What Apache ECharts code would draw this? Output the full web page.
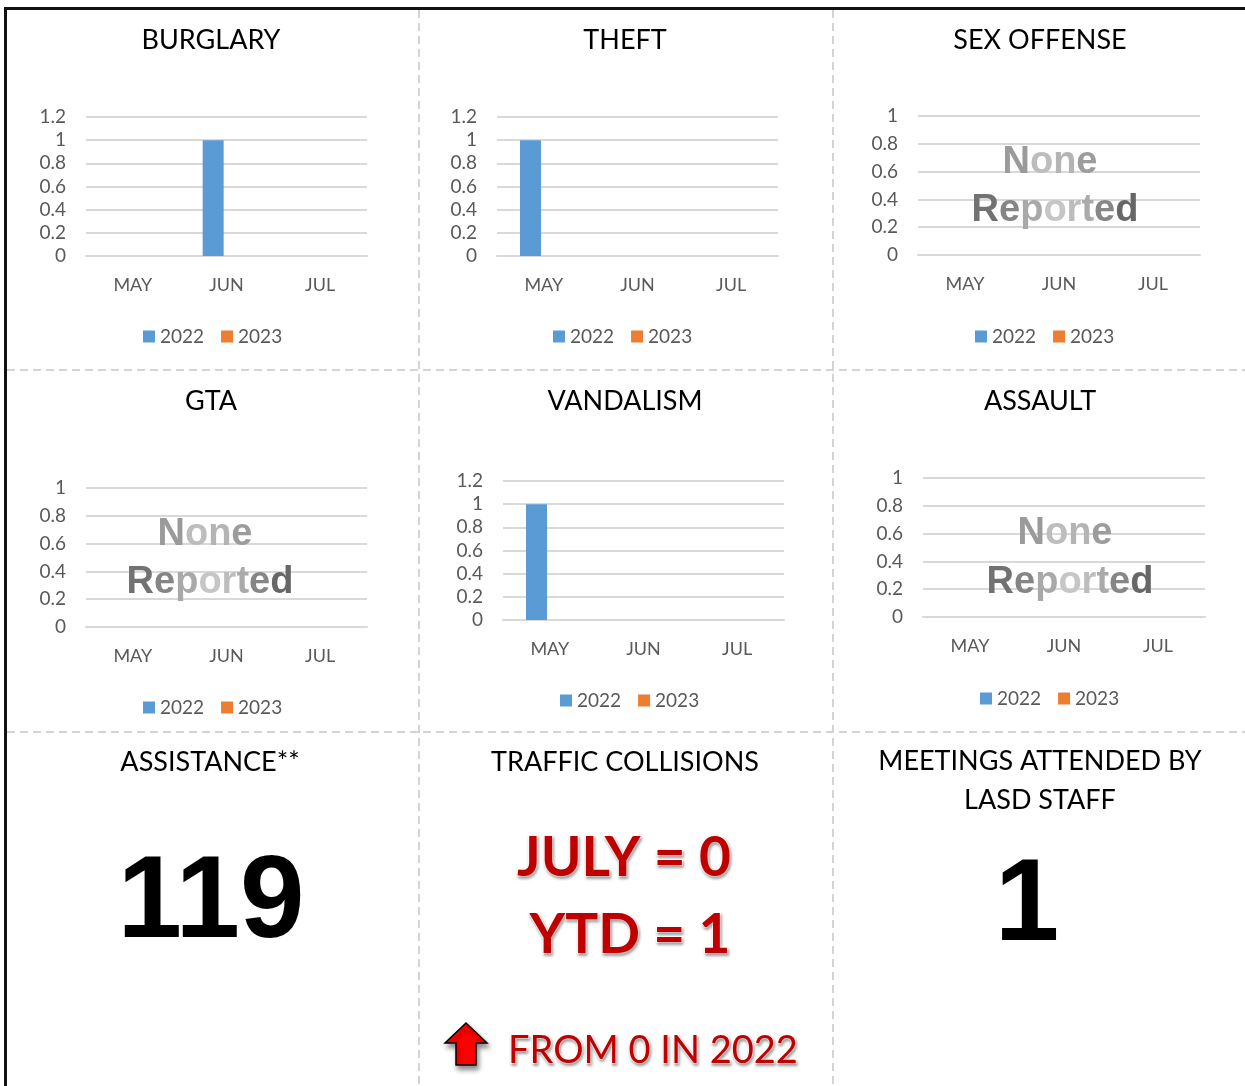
<!DOCTYPE html>
<html>
<head>
<meta charset="utf-8">
<script src="https://cdn.jsdelivr.net/npm/echarts@6/dist/echarts.min.js"></script>
<style>
html,body{margin:0;padding:0;background:#fff;}
#main{width:1245px;height:1086px;}
</style>
</head>
<body>
<div id="main"></div>
<script>
// ---- data ----
const months = ['MAY', 'JUN', 'JUL'];
const seriesNames = ['2022', '2023'];
const panelTitles = ['BURGLARY', 'THEFT', 'SEX OFFENSE', 'GTA', 'VANDALISM', 'ASSAULT'];
const burglary2022 = [0, 1, 0];
const burglary2023 = [0, 0, 0];
const theft2022 = [1, 0, 0];
const theft2023 = [0, 0, 0];
const sexOffense2022 = [0, 0, 0];
const sexOffense2023 = [0, 0, 0];
const gta2022 = [0, 0, 0];
const gta2023 = [0, 0, 0];
const vandalism2022 = [1, 0, 0];
const vandalism2023 = [0, 0, 0];
const assault2022 = [0, 0, 0];
const assault2023 = [0, 0, 0];
const yMaxes = [1.2, 1.2, 1, 1, 1.2, 1];
const noneWord = 'None';
const reportedWord = 'Reported';
const assistanceTitle = 'ASSISTANCE**';
const assistanceValue = '119';
const trafficTitle = 'TRAFFIC COLLISIONS';
const trafficMonth = 'JULY = 0';
const trafficYtd = 'YTD = 1';
const trafficChange = 'FROM 0 IN 2022';
const meetingsTitle = 'MEETINGS ATTENDED BY\nLASD STAFF';
const meetingsValue = '1';

const allData = [
  [burglary2022, burglary2023],
  [theft2022, theft2023],
  [sexOffense2022, sexOffense2023],
  [gta2022, gta2023],
  [vandalism2022, vandalism2023],
  [assault2022, assault2023]
];

// ---- layout (pixels) ----
const grids = [
  {left: 86, top: 117, width: 281, height: 139},
  {left: 497, top: 117, width: 281, height: 139},
  {left: 918, top: 116, width: 282, height: 139},
  {left: 86, top: 488, width: 281, height: 139},
  {left: 503, top: 481, width: 281, height: 139},
  {left: 923, top: 478, width: 282, height: 139}
];
const legendPos = [
  {left: 143, top: 327}, {left: 553, top: 327}, {left: 975, top: 327},
  {left: 143, top: 698}, {left: 560, top: 691}, {left: 980, top: 689}
];
const titleCenters = [[211, 40], [625, 40], [1040, 40], [211, 401], [625, 401], [1040, 401]];
const nonePos = {2: [1050, 163, 1055, 211], 3: [205, 535, 210, 583], 5: [1065, 534, 1070, 583]};

const BLUE = '#5B9BD5', ORANGE = '#ED7D31';
const AXIS_GREY = '#595959', GRID_GREY = '#d9d9d9';
const TITLE_FONT = 'Lato, "Open Sans", sans-serif';

const chart = echarts.init(document.getElementById('main'), null, {renderer: 'canvas', width: 1245, height: 1086});

const option = {
  animation: false,
  backgroundColor: '#fff',
  grid: grids.map(g => Object.assign({containLabel: false}, g)),
  xAxis: grids.map((g, i) => ({
    type: 'category', gridIndex: i, data: months,
    axisLine: {show: true, lineStyle: {color: GRID_GREY, width: 2}},
    axisTick: {show: false},
    axisLabel: {color: AXIS_GREY, fontSize: 18, margin: 20, fontFamily: TITLE_FONT}
  })),
  yAxis: grids.map((g, i) => ({
    type: 'value', gridIndex: i, min: 0, max: yMaxes[i], interval: 0.2,
    axisLine: {show: false}, axisTick: {show: false},
    splitLine: {lineStyle: {color: GRID_GREY, width: 2}},
    axisLabel: {color: AXIS_GREY, fontSize: 19, margin: 20, fontFamily: TITLE_FONT,
      formatter: v => String(+v.toFixed(1))}
  })),
  legend: legendPos.map(p => ({
    left: p.left, top: p.top, orient: 'horizontal', padding: 0,
    data: seriesNames, icon: 'rect', itemWidth: 12, itemHeight: 12, itemGap: 17,
    textStyle: {color: AXIS_GREY, fontSize: 19, fontFamily: TITLE_FONT},
    selectedMode: false
  })),
  series: []
};

allData.forEach((pair, i) => {
  pair.forEach((vals, k) => {
    option.series.push({
      type: 'bar', name: seriesNames[k], xAxisIndex: i, yAxisIndex: i,
      data: vals, barWidth: 21, barGap: '27%',
      itemStyle: {color: k === 0 ? BLUE : ORANGE}
    });
  });
});

const graphics = [];
// outer border
graphics.push({type: 'line', shape: {x1: 4, y1: 8.5, x2: 1245, y2: 8.5}, style: {stroke: '#111', lineWidth: 3}});
graphics.push({type: 'line', shape: {x1: 5.5, y1: 7, x2: 5.5, y2: 1086}, style: {stroke: '#111', lineWidth: 3}});
// dashed separators
const dash = {stroke: '#d4d4d4', lineWidth: 2, lineDash: [8, 5]};
graphics.push({type: 'line', shape: {x1: 419, y1: 10, x2: 419, y2: 1086}, style: dash});
graphics.push({type: 'line', shape: {x1: 833, y1: 10, x2: 833, y2: 1086}, style: dash});
graphics.push({type: 'line', shape: {x1: 7, y1: 370, x2: 1245, y2: 370}, style: dash});
graphics.push({type: 'line', shape: {x1: 7, y1: 732, x2: 1245, y2: 732}, style: dash});

// panel titles
titleCenters.forEach((c, i) => {
  graphics.push({type: 'text', x: c[0], y: c[1], style: {
    text: panelTitles[i], fill: '#000', font: '27px ' + TITLE_FONT, align: 'center', verticalAlign: 'middle'}});
});

// "None Reported" watermark: per-letter greys imitate the metallic gradient
const noneFont = 'bold 38px "Liberation Sans", Arial, sans-serif';
const noneGreys = ['#9a9a9a', '#bdbdbd', '#b4b4b4', '#9c9c9c'];
const reportedGreys = ['#727272', '#858585', '#a9a9a9', '#c6c6c6', '#bdbdbd', '#aaaaaa', '#868686', '#676767'];
function shadedText(word, greys) {
  const rich = {};
  let txt = '';
  word.split('').forEach((ch, j) => {
    rich['c' + j] = {fill: greys[j], font: noneFont};
    txt += '{c' + j + '|' + ch + '}';
  });
  return {text: txt, rich: rich, font: noneFont, align: 'center', verticalAlign: 'middle'};
}
Object.keys(nonePos).forEach(k => {
  const p = nonePos[k];
  graphics.push({type: 'text', x: p[0], y: p[1], z: 10, style: shadedText(noneWord, noneGreys)});
  graphics.push({type: 'text', x: p[2], y: p[3], z: 10, style: shadedText(reportedWord, reportedGreys)});
});

// bottom row
const bigFont = 'bold 116px "Liberation Sans", Arial, sans-serif';
graphics.push({type: 'text', x: 210, y: 762, style: {text: assistanceTitle, fill: '#000', font: '27px ' + TITLE_FONT, align: 'center', verticalAlign: 'middle'}});
graphics.push({type: 'text', x: 211, y: 905, style: {text: assistanceValue, fill: '#000', font: bigFont, align: 'center', verticalAlign: 'middle'}});
graphics.push({type: 'text', x: 625, y: 762, style: {text: trafficTitle, fill: '#000', font: '27px ' + TITLE_FONT, align: 'center', verticalAlign: 'middle'}});
graphics.push({type: 'text', x: 1040, y: 781, style: {text: meetingsTitle, fill: '#000', font: '27px ' + TITLE_FONT, align: 'center', verticalAlign: 'middle', lineHeight: 39}});
graphics.push({type: 'text', x: 1027, y: 908, style: {text: meetingsValue, fill: '#000', font: bigFont, align: 'center', verticalAlign: 'middle'}});

const redStyle = (txt, size, weight) => ({
  text: txt, fill: '#C00000', font: weight + ' ' + size + 'px ' + TITLE_FONT,
  align: 'center', verticalAlign: 'middle',
  stroke: '#ffffff', lineWidth: 2,
  textShadowColor: 'rgba(0,0,0,0.3)', textShadowBlur: 3, textShadowOffsetX: 1, textShadowOffsetY: 2
});
graphics.push({type: 'text', x: 624, y: 858, style: redStyle(trafficMonth, 55, 'bold')});
graphics.push({type: 'text', x: 630, y: 935, style: redStyle(trafficYtd, 55, 'bold')});
graphics.push({type: 'text', x: 653, y: 1051, style: redStyle(trafficChange, 38, 'normal')});

// up arrow
graphics.push({type: 'polygon', shape: {points: [[466, 1023], [445, 1043], [456, 1043], [456, 1065], [476, 1065], [476, 1043], [487, 1043]]},
  style: {fill: '#FF0000', stroke: '#000', lineWidth: 1.5, shadowColor: 'rgba(0,0,0,0.45)', shadowBlur: 5, shadowOffsetX: 2, shadowOffsetY: 4}});

option.graphic = {elements: graphics};
chart.setOption(option);
</script>
</body>
</html>
